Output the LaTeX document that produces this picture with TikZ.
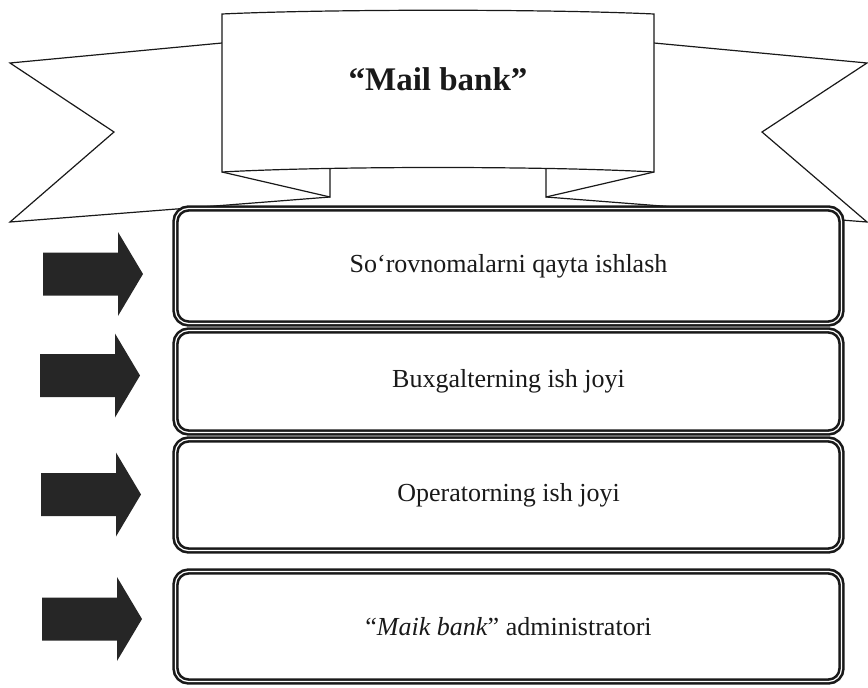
\documentclass[tikz,border=0pt]{standalone}
\usepackage{fontspec}
\setmainfont{Liberation Serif}
\begin{document}
\begin{tikzpicture}[x=1pt,y=-1pt,
  banner/.style={draw=black!90,line width=1.2pt,line join=miter,fill=white},
  stagebox/.style={draw=black!90,double=white,double distance=1.2pt,line width=2.6pt,
    rounded corners=13pt,fill=white,minimum width=666pt,inner sep=0pt,
    font=\fontsize{26}{30}\selectfont,text=black!90},
  blockarrow/.style={fill=black!85}]
\useasboundingbox (0,0) rectangle (868,688);
% ribbon tails
\draw[banner] (222,43) -- (10,63) -- (114,132) -- (10,222) -- (330,197);
\draw[banner] (654,43) -- (867,63) -- (762,132) -- (867,222) -- (546,197);
% folds
\fill[white] (222,172) -- (330,197) -- (330,166) -- cycle;
\draw[banner,fill=none] (222,172) -- (330,197) -- (330,168);
\fill[white] (654,172) -- (546,197) -- (546,166) -- cycle;
\draw[banner,fill=none] (654,172) -- (546,197) -- (546,168);
% central panel
\draw[banner] (222,14) .. controls (330,9) and (546,9) .. (654,14) -- (654,172)
  .. controls (546,166) and (330,166) .. (222,172) -- cycle;
\node[font=\fontsize{33}{37}\selectfont\bfseries,text=black!90] (title) at (438,79) {“Mail bank”};
% stage boxes
\node[stagebox,minimum height=115pt] (b1) at (508.5,266) {\raisebox{-4pt}{So‘rovnomalarni qayta ishlash}};
\node[stagebox,minimum height=102pt] (b2) at (508.5,381.5) {\raisebox{-4pt}{Buxgalterning ish joyi}};
\node[stagebox,minimum height=111pt] (b3) at (508.5,495) {Operatorning ish joyi};
\node[stagebox,minimum height=110pt] (b4) at (508.5,626.5) {“\textit{Maik bank}” administratori};
% block arrows
\foreach \l/\c in {43/274,40/375.5,41/494.5,42/619}{
  \fill[blockarrow] (\l,{\c-21.5}) -- ({\l+75},{\c-21.5}) -- ({\l+75},{\c-42})
    -- ({\l+100},\c) -- ({\l+75},{\c+42}) -- ({\l+75},{\c+21.5}) -- (\l,{\c+21.5}) -- cycle;
}
\end{tikzpicture}
\end{document}
